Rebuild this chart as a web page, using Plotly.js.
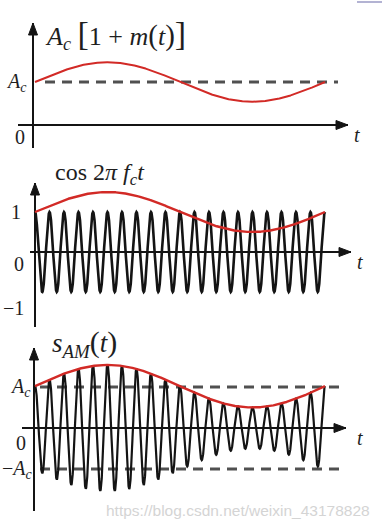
<!DOCTYPE html>
<html><head><meta charset="utf-8">
<script src="https://cdn.plot.ly/plotly-3.0.1.min.js"></script>
<style>html,body{margin:0;padding:0;background:#fff;}#chart{width:382px;height:528px;}</style>
</head><body><div id="chart"></div>
<script>
// ---- values ----
const messagePeriods = [1, 1, 1];          // one period of m(t) over the span
const carrierCycles = [20];                // carrier cycles over the span
const envelopeDepth = [0.46, 0.5, 0.52];   // m for each panel's red envelope
const envelopeOffset = [1, 1, 1.02];       // A_c level (normalised) per panel
const carrierAmp = [1];
const tSpan = [0, 1];
const sampleCount = [2400];
const tickLabels1 = ['<i>A</i><sub><i>c</i></sub>', '0'];
const tickLabels2 = ['1', '0', '\u22121'];
const tickLabels3 = ['<i>A</i><sub><i>c</i></sub>', '0', '\u2212<i>A</i><sub><i>c</i></sub>'];

// sampling of the time axis
const N = sampleCount[0];
const t = [];
for (let i = 0; i <= N; i++) t.push(tSpan[0] + (tSpan[1] - tSpan[0]) * i / N);
const env = (k) => t.map(v => envelopeOffset[k] + envelopeDepth[k] * Math.sin(2 * Math.PI * messagePeriods[k] * v));
const carrier = t.map(v => carrierAmp[0] * Math.cos(2 * Math.PI * carrierCycles[0] * v));
const env1 = env(0), env2 = env(1), env3 = env(2);
const am = t.map((v, i) => env3[i] * carrier[i]);

const RED = '#d22a26', BLK = '#141414', DASH = '#505050';
const traces = [
  {x: t, y: env1, xaxis: 'x', yaxis: 'y', mode: 'lines', line: {color: RED, width: 2}},
  {x: t, y: carrier, xaxis: 'x2', yaxis: 'y2', mode: 'lines', line: {color: BLK, width: 2.6}},
  {x: t, y: env2, xaxis: 'x2', yaxis: 'y2', mode: 'lines', line: {color: RED, width: 2.4}},
  {x: t, y: am, xaxis: 'x3', yaxis: 'y3', mode: 'lines', line: {color: BLK, width: 2.2}},
  {x: t, y: env3, xaxis: 'x3', yaxis: 'y3', mode: 'lines', line: {color: RED, width: 2.4}}
];

// pixel helpers for layout geometry
const W = 382, H = 528;
const px2t = px => (px - 35) / 290;
const xr = [px2t(0), px2t(W)];
const pyP = py => 1 - py / H;
const hidden = {visible: false, fixedrange: true};
const ax = (range, dom, anchor) => Object.assign({range: range, domain: dom, anchor: anchor}, hidden);

const layout = {
  width: W, height: H, margin: {l: 0, r: 0, t: 0, b: 0},
  paper_bgcolor: '#fff', plot_bgcolor: 'rgba(0,0,0,0)', showlegend: false,
  xaxis: ax(xr, [0, 1], 'y'),
  yaxis: ax([(125 - 150) / 43, 125 / 43], [pyP(150), 1], 'x'),
  xaxis2: ax(xr, [0, 1], 'y2'),
  yaxis2: ax([(252 - 335) / 40, (252 - 150) / 40], [pyP(335), pyP(150)], 'x2'),
  xaxis3: ax(xr, [0, 1], 'y3'),
  yaxis3: ax([(428 - 528) / 41, (428 - 322) / 41], [0, pyP(322)], 'x3'),
  shapes: [], annotations: []
};

function line(xref, yref, x0, y0, x1, y1, color, width, dash) {
  layout.shapes.push({type: 'line', xref: xref, yref: yref, x0: x0, y0: y0, x1: x1, y1: y1,
    line: {color: color, width: width, dash: dash || 'solid'}, layer: 'below'});
}
// arrow: line plus a pixel-sized triangular head anchored at the tip
function arrow(xref, yref, xs, ys, xe, ye, dir) {
  line(xref, yref, xs, ys, xe, ye, BLK, 2);
  const path = dir === 'up' ? 'M0,0 L-4.5,-12 L4.5,-12 Z' : 'M0,0 L-12,-4.5 L-12,4.5 Z';
  layout.shapes.push({type: 'path', xref: xref, yref: yref, xsizemode: 'pixel', ysizemode: 'pixel',
    xanchor: xe, yanchor: ye, path: path, fillcolor: BLK, line: {color: BLK, width: 1}});
}
const SERIF = 'Liberation Serif, Times New Roman, DejaVu Serif, serif';
function label(xref, yref, x, y, text, size) {
  layout.annotations.push({xref: xref, yref: yref, x: x, y: y, text: text, showarrow: false,
    xanchor: 'center', yanchor: 'middle',
    font: {family: SERIF, size: size, color: '#1e1e1e'}});
}
const dashStyle = '10px,7px';
const SERIF_TICK = 20;

// panel 1
arrow('x', 'y', px2t(33), (125 - 148) / 43, px2t(33), (125 - 23) / 43, 'up');
arrow('x', 'y', px2t(18), 0, px2t(348), 0, 'right');
line('x', 'y', px2t(45), 1, px2t(338), 1, DASH, 3, dashStyle);
label('x', 'y', px2t(16), 1, tickLabels1[0], SERIF_TICK);
label('x', 'y', px2t(20), (125 - 137) / 43, tickLabels1[1], SERIF_TICK);
label('x', 'y', px2t(357), (125 - 135) / 43, '<i>t</i>', SERIF_TICK);
label('paper', 'paper', 115 / W, pyP(34), '<i>A</i><sub><i>c</i></sub> <span style="font-size:34px">[</span>1 + <i>m</i><span style="font-size:29px">(</span><i>t</i><span style="font-size:29px">)</span><span style="font-size:34px">]</span>', 26);

// panel 2
arrow('x2', 'y2', 0, (252 - 327) / 40, 0, (252 - 183) / 40, 'up');
arrow('x2', 'y2', px2t(30), 0, px2t(351), 0, 'right');
label('x2', 'y2', px2t(16), 1, tickLabels2[0], SERIF_TICK);
label('x2', 'y2', px2t(19), (252 - 264) / 40, tickLabels2[1], SERIF_TICK);
label('x2', 'y2', px2t(13), (252 - 308) / 40, tickLabels2[2], SERIF_TICK);
label('x2', 'y2', px2t(360), (252 - 262) / 40, '<i>t</i>', SERIF_TICK);
label('paper', 'paper', 100 / W, pyP(174), 'cos 2<i>\u03C0 f</i><sub><i>c</i></sub><i>t</i>', 24);

// panel 3
arrow('x3', 'y3', px2t(34), (428 - 511) / 41, px2t(34), (428 - 348) / 41, 'up');
arrow('x3', 'y3', px2t(22), 0, px2t(346), 0, 'right');
line('x3', 'y3', px2t(40), 1, px2t(342), 1, DASH, 3, dashStyle);
line('x3', 'y3', px2t(40), -1, px2t(342), -1, DASH, 3, dashStyle);
label('x3', 'y3', px2t(20), 1, tickLabels3[0], SERIF_TICK);
label('x3', 'y3', px2t(21), (428 - 443) / 41, tickLabels3[1], SERIF_TICK);
label('x3', 'y3', px2t(17), -1, tickLabels3[2], SERIF_TICK);
label('x3', 'y3', px2t(360), (428 - 438) / 41, '<i>t</i>', SERIF_TICK);
label('paper', 'paper', 84 / W, pyP(343), '<i>s</i><sub><i>AM</i></sub><span style="font-size:30px">(</span><i>t</i><span style="font-size:30px">)</span>', 27);

// watermark and small corner fragment
layout.annotations.push({xref: 'paper', yref: 'paper', x: 372 / W, y: pyP(510), xanchor: 'right', yanchor: 'middle', showarrow: false,
  text: 'https://blog.csdn.net/weixin_43178828', font: {family: 'Liberation Sans', size: 15.5, color: '#d4d4d4'}});
layout.shapes.push({type: 'line', xref: 'paper', yref: 'paper', x0: 357 / W, y0: pyP(2), x1: 1, y1: pyP(2), line: {color: '#9a9ac4', width: 1.5}});

Plotly.newPlot('chart', traces, layout, {displayModeBar: false, staticPlot: true});
</script></body></html>
